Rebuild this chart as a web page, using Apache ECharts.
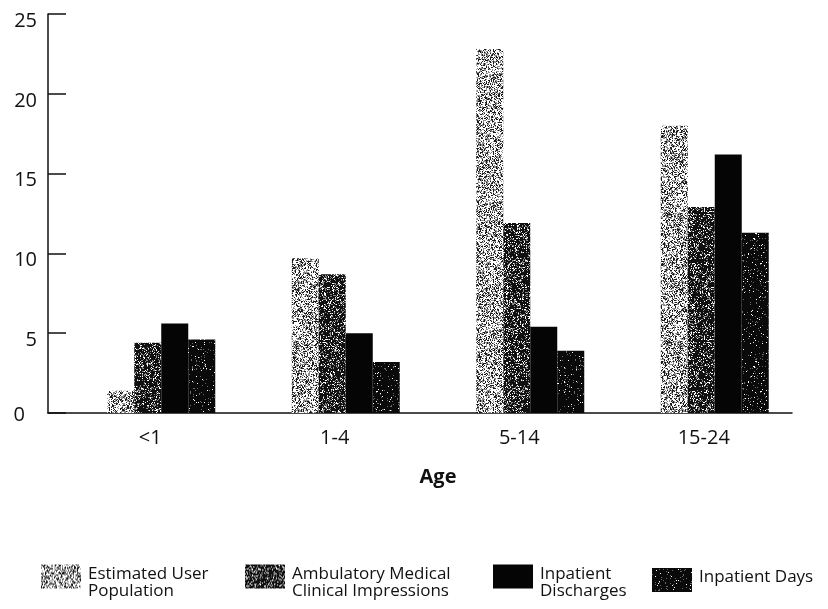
<!DOCTYPE html>
<html>
<head>
<meta charset="utf-8">
<script src="https://cdn.jsdelivr.net/npm/echarts@6/dist/echarts.min.js"></script>
<style>
  html, body { margin: 0; padding: 0; background: #fff; }
  #chart { width: 828px; height: 609px; }
</style>
</head>
<body>
<div id="chart"></div>
<script>
// Age groups and the share (%) each measure accounts for
const categories = ['<1', '1-4', '5-14', '15-24'];
const estimatedUserPopulation = [1.4, 9.7, 22.8, 18.0];
const ambulatoryImpressions   = [4.4, 8.7, 11.9, 12.9];
const inpatientDischarges     = [5.6, 5.0, 5.4, 16.2];
const inpatientDays           = [4.6, 3.2, 3.9, 11.3];
const yTicks = [0, 5, 10, 15, 20, 25];

const seriesNames = ['Estimated User Population', 'Ambulatory Medical Clinical Impressions', 'Inpatient Discharges', 'Inpatient Days'];
// Legend wording, broken over lines; a small spacer line keeps the first text line level with the swatch top
const legendText = {
  'Estimated User Population': '{s| }\n{t|Estimated User}\n{t|Population}',
  'Ambulatory Medical Clinical Impressions': '{s| }\n{t|Ambulatory Medical}\n{t|Clinical Impressions}',
  'Inpatient Discharges': '{s| }\n{t|Inpatient}\n{t|Discharges}',
  'Inpatient Days': '{t|Inpatient Days}\n{d| }'
};

// Deterministic pixel hash (murmur-style finaliser) for the stippled print-style fills
function hash(x, y, seed) {
  let h = Math.imul(x + Math.imul(y, 7919) + Math.imul(seed, 104729), 0x9E3779B1);
  h ^= h >>> 16;
  h = Math.imul(h, 0x85EBCA6B);
  h ^= h >>> 13;
  h = Math.imul(h, 0xC2B2AE35);
  h ^= h >>> 16;
  return (h >>> 0) / 4294967296;
}
function stipple(bg, dark, dDark, mid, dMid, seed) {
  const size = 128;
  const c = document.createElement('canvas');
  c.width = c.height = size;
  const ctx = c.getContext('2d');
  ctx.fillStyle = bg;
  ctx.fillRect(0, 0, size, size);
  for (let y = 0; y < size; y++) {
    for (let x = 0; x < size; x++) {
      const h = hash(x, y, seed);
      if (h < dDark) { ctx.fillStyle = dark; ctx.fillRect(x, y, 1, 1); }
      else if (h < dDark + dMid) { ctx.fillStyle = mid; ctx.fillRect(x, y, 1, 1); }
    }
  }
  return { image: c, repeat: 'repeat' };
}

const fills = [
  stipple('#ffffff', '#1a1a1a', 0.26, '#8c8c8c', 0.26, 11),
  stipple('#101010', '#ffffff', 0.12, '#8a8a8a', 0.16, 23),
  '#050505',
  stipple('#0a0a0a', '#ffffff', 0.025, '#6a6a6a', 0.05, 37)
];
const dataSets = [estimatedUserPopulation, ambulatoryImpressions, inpatientDischarges, inpatientDays];

const FONT = "'Open Sans', 'Noto Sans', sans-serif";
const legendLefts = [36, 240, 488, 647];

const chart = echarts.init(document.getElementById('chart'), null, { renderer: 'canvas' });

chart.setOption({
  backgroundColor: '#ffffff',
  animation: false,
  grid: [
    // bars
    { left: 69, right: 21, top: 14, bottom: 196 },
    // frame: y axis and baseline
    { left: 48, right: 36, top: 14, bottom: 196 }
  ],
  xAxis: [
    {
      type: 'category', gridIndex: 0, data: categories,
      axisLine: { show: false }, axisTick: { show: false },
      axisLabel: { color: '#111', fontFamily: FONT, fontSize: 20, margin: 15, padding: [0, 22, 0, 0] },
      name: 'Age', nameLocation: 'middle', nameGap: 54,
      nameTextStyle: { color: '#111', fontFamily: FONT, fontSize: 20, fontWeight: 'bold' }
    },
    {
      type: 'value', gridIndex: 1, min: 0, max: 1,
      axisLine: { show: true, lineStyle: { color: '#111', width: 1.5 } },
      axisTick: { show: false }, axisLabel: { show: false }, splitLine: { show: false }
    }
  ],
  yAxis: [
    { type: 'value', gridIndex: 0, min: yTicks[0], max: yTicks[yTicks.length - 1], interval: 5, show: false },
    {
      type: 'value', gridIndex: 1, min: yTicks[0], max: yTicks[yTicks.length - 1], interval: 5,
      axisLine: { show: true, lineStyle: { color: '#111', width: 1.5 } },
      axisTick: { show: true, inside: true, length: 18, lineStyle: { color: '#111', width: 1.5 } },
      splitLine: { show: false },
      axisLabel: {
        margin: 11,
        formatter: v => (v === 0 ? '{z|0}' : '{a|' + v + '}'),
        rich: {
          a: { color: '#111', fontFamily: FONT, fontSize: 20, padding: [14, 0, 0, 0] },
          z: { color: '#111', fontFamily: FONT, fontSize: 20, padding: [4, 12, 0, 0] }
        }
      }
    }
  ],
  legend: seriesNames.map((name, i) => ({
    data: [name],
    left: legendLefts[i],
    top: i === 3 ? 563 : 554,
    itemWidth: 40,
    itemHeight: 24,
    icon: 'rect',
    selectedMode: false,
    formatter: n => legendText[n],
    textStyle: {
      color: '#111', fontFamily: FONT, fontSize: 17,
      rich: {
        t: { color: '#111', fontFamily: FONT, fontSize: 17, lineHeight: 17, padding: [0, 0, 0, 2] },
        s: { fontSize: 1, lineHeight: 13 },
        d: { fontSize: 1, lineHeight: 5 }
      }
    }
  })),
  series: seriesNames.map((name, i) => ({
    name: name,
    type: 'bar',
    xAxisIndex: 0,
    yAxisIndex: 0,
    data: dataSets[i],
    barWidth: 27,
    barGap: '0%',
    itemStyle: { color: fills[i] }
  }))
});
</script>
</body>
</html>
